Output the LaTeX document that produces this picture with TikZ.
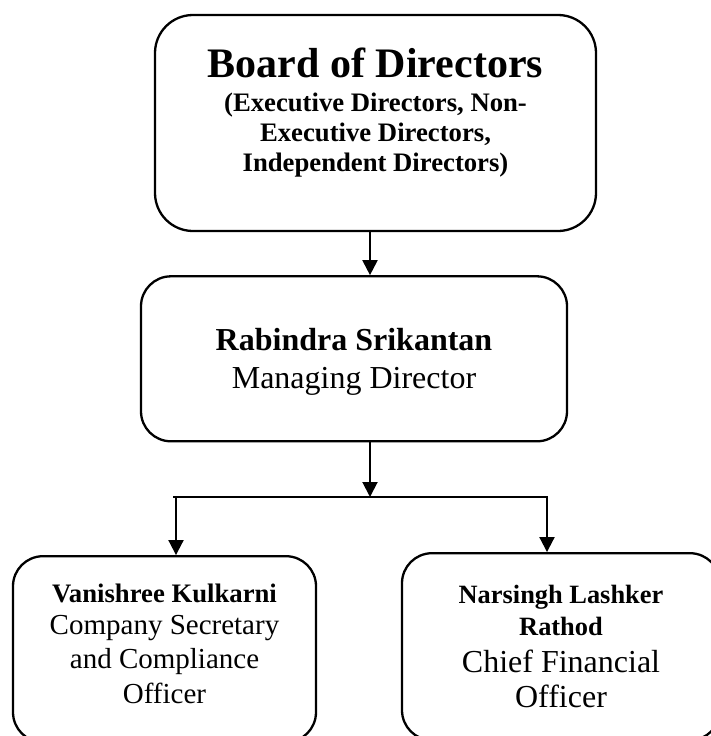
\documentclass[tikz,border=0pt]{standalone}
\usepackage{fontspec}
\setmainfont{Liberation Serif}
\usetikzlibrary{arrows.meta,positioning}
\tikzstyle{box}=[draw,rounded corners=30pt,line width=2.3pt,align=center,inner sep=0pt]
\tikzstyle{every edge}=[draw,line width=2pt,-{Triangle[width=15pt,length=15pt]}]
\tikzstyle{split}=[line width=1.3pt]
\newcommand{\lift}[1]{\rule{0pt}{#1}}
\newcommand{\sink}[1]{\rule[-#1]{0pt}{#1}}
\newcommand{\who}[2]{{\fontsize{#1}{30}\selectfont\bfseries #2}}

\begin{document}
\begin{tikzpicture}[x=1pt,y=1pt]
  \useasboundingbox (0,0) rectangle (710,-736);
  \node[box,rounded corners=38pt,minimum width=441pt,minimum height=216pt,
        font=\fontsize{26.7}{30}\selectfont\bfseries] (board) at (375.5,-123)
    {{\fontsize{42}{46}\selectfont Board of Directors}\\[4.4pt]
     (Executive Directors, Non-\\ Executive Directors,\\
     Independent Directors)\sink{26.3pt}};
  \node[box,minimum width=426pt,minimum height=165pt,
        font=\fontsize{32}{38}\selectfont] (md) [below=43pt of board,xshift=-21.5pt]
    {\lift{28pt}\textbf{Rabindra Srikantan}\\ Managing Director};
  \node[box,minimum width=303pt,minimum height=186pt,
        font=\fontsize{29}{34.5}\selectfont] (cs) [below=112.6pt of md,xshift=-189.5pt]
    {\who{26.7}{Vanishree Kulkarni}\\[-2.8pt] Company Secretary\\
     and Compliance\\ Officer\sink{11pt}};
  \node[box,minimum width=318pt,minimum height=187pt,
        font=\fontsize{32}{35}\selectfont] (cfo) [below=109.6pt of md,xshift=207pt]
    {\who{26.4}{Narsingh Lashker}\\[-3pt] \who{26.4}{Rathod}\\[1.7pt]
     Chief Financial\\ Officer};

  \coordinate (fork) at (370,-497);
  \coordinate (forkL) at (176,-497);
  \coordinate (forkR) at (547,-497);

  \path (board.south -| fork) edge (md.north -| fork)
        (md.south -| fork) edge (fork)
        (forkL) edge (forkL |- cs.north)
        (forkR) edge (forkR |- cfo.north);
  \draw[split] ([xshift=-3pt]forkL) -- ([xshift=1pt]forkR);
\end{tikzpicture}
\end{document}
